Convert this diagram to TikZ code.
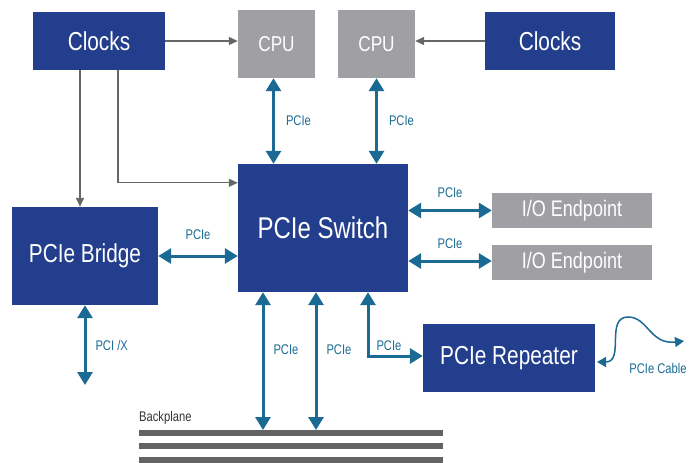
\documentclass[tikz,border=0pt]{standalone}
\usepackage{fontspec}
\setmainfont{Liberation Sans}[FakeStretch=0.8]
\usepackage{tikz}
\usetikzlibrary{positioning,arrows.meta}
\definecolor{boxblue}{HTML}{233E8C}
\definecolor{boxgrey}{HTML}{A0A0A4}
\definecolor{linkteal}{HTML}{1B6A94}
\definecolor{clkgrey}{HTML}{666666}
\definecolor{railgrey}{HTML}{636363}
\begin{document}
\begin{tikzpicture}[x=1pt, y=-1pt,
    bluebox/.style={fill=boxblue, text=white, inner sep=0pt},
    greybox/.style={fill=boxgrey, text=white, inner sep=0pt},
    clk/.style={draw=clkgrey, line width=1.3pt, -{Triangle[length=9pt,width=8pt]}},
    pcie/.style={draw=linkteal, line width=3pt, {Triangle[length=13pt,width=15pt]}-{Triangle[length=13pt,width=15pt]}},
    cable/.style={draw=linkteal, line width=1.5pt, {Triangle[length=9pt,width=10pt]}-{Triangle[length=9pt,width=10pt]}},
    lbl/.style={text=linkteal, inner sep=1pt, font=\fontsize{14}{14}\selectfont}]

    \useasboundingbox (0,0) rectangle (699,463);

    \node[bluebox, minimum width=132pt, minimum height=58pt, font=\fontsize{26}{26}\selectfont] (clkL) at (99,41) {Clocks};
    \node[greybox, minimum width=77pt, minimum height=68pt, font=\fontsize{21.5}{21.5}\selectfont] (cpuA) at (276.5,44) {CPU};
    \node[greybox, minimum width=77pt, minimum height=68pt, font=\fontsize{21.5}{21.5}\selectfont] (cpuB) at (376.5,44) {CPU};
    \node[bluebox, minimum width=130pt, minimum height=58pt, font=\fontsize{26}{26}\selectfont] (clkR) at (550,41) {Clocks};
    \node[bluebox, minimum width=170pt, minimum height=128pt, font=\fontsize{30}{30}\selectfont] (switch) at (323,228) {PCIe Switch};
    \node[bluebox, minimum width=146pt, minimum height=98pt, font=\fontsize{26}{26}\selectfont] (bridge) at (85,256) {PCIe Bridge};
    \node[greybox, minimum width=160pt, minimum height=35pt, font=\fontsize{22.5}{22.5}\selectfont] (io1) at (572,210.5) {I/O Endpoint};
    \node[greybox, minimum width=160pt, minimum height=35pt, font=\fontsize{22.5}{22.5}\selectfont] (io2) at (572,262.5) {I/O Endpoint};
    \node[bluebox, minimum width=172pt, minimum height=68pt, font=\fontsize{26}{26}\selectfont] (repeater) at (509,358) {PCIe Repeater};

    \coordinate (pcix) at (85,385);
    \coordinate (bp) at (139,430);
    \coordinate (cblA) at (597,362);
    \coordinate (cblB) at (684,341);

    \fill[railgrey] (bp) rectangle (443,436);
    \fill[railgrey] (139,443) rectangle (443,449);
    \fill[railgrey] (139,457) rectangle (443,463);
    \node[anchor=south west, inner sep=0pt, text=black!80, font=\fontsize{14}{14}\selectfont] (bplbl) at (139,425) {Backplane};

    \draw[clk] (clkL) -- (clkL -| cpuA.west);
    \draw[clk] (clkR) -- (clkR -| cpuB.east);
    \draw[clk] ([xshift=-19pt]clkL.south) -- ([xshift=-19pt]clkL.south |- bridge.north);
    \draw[clk] ([xshift=19pt]clkL.south) |- ([yshift=-19pt]switch.north west);

    \draw[pcie] ([xshift=-3pt]cpuA.south) -- ([xshift=-3pt]cpuA.south |- switch.north) node[lbl, midway, right=10pt] {PCIe};
    \draw[pcie] (cpuB.south) -- (cpuB.south |- switch.north) node[lbl, midway, right=10pt] {PCIe};
    \draw[pcie] (bridge) -- (bridge -| switch.west) node[lbl, midway, above=14pt] {PCIe};
    \draw[pcie] (switch.east |- io1) -- (io1.west) node[lbl, midway, above=10pt] {PCIe};
    \draw[pcie] ([yshift=1.5pt]switch.east |- io2) -- ([yshift=1.5pt]io2.west) node[lbl, midway, above=10pt] {PCIe};
    \draw[pcie] (bridge.south) -- (pcix) node[lbl, midway, right=8pt] {PCI /X};
    \draw[pcie] ([xshift=-60pt]switch.south) -- ([xshift=-60pt]switch.south |- bp) node[lbl, pos=0.42, right=8pt] {PCIe};
    \draw[pcie] ([xshift=-7pt]switch.south) -- ([xshift=-7pt]switch.south |- bp) node[lbl, pos=0.42, right=8pt] {PCIe};
    \draw[pcie] ([xshift=45pt]switch.south) |- ([yshift=2pt]repeater.west) node[lbl, pos=0.5, above right=3pt and 6pt] {PCIe};

    \draw[cable] (cblA) .. controls (625,362) and (605,317) .. (628,317) .. controls (648,317) and (650,345) .. (cblB);
    \node[lbl] (cbllbl) at (658,368) {PCIe Cable};

\end{tikzpicture}
\end{document}
